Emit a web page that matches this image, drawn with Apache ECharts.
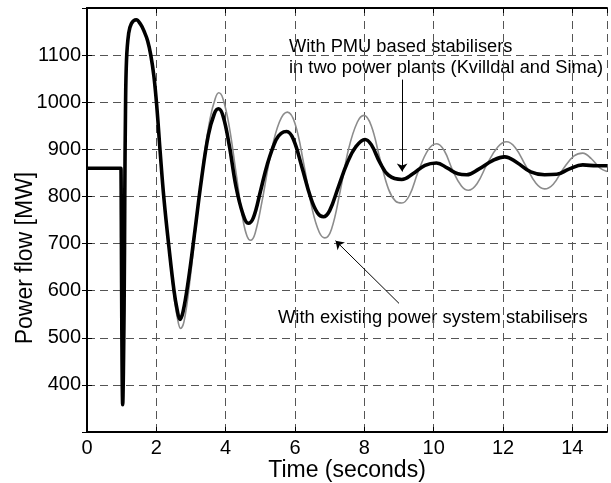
<!DOCTYPE html>
<html>
<head>
<meta charset="utf-8">
<script src="https://cdn.jsdelivr.net/npm/echarts@6/dist/echarts.min.js"></script>
<style>
  html, body { margin: 0; padding: 0; background: #fff; }
  #chart { width: 611px; height: 483px; }
</style>
</head>
<body>
<div id="chart"></div>
<script>
// time in seconds, power flow in MW
var pmuTime = [0, 0.98, 1.0, 1.03, 1.07, 1.09, 1.11, 1.14, 1.2, 1.28, 1.42, 1.55, 1.65, 1.75, 1.84, 1.93, 2.02, 2.11, 2.22, 2.36, 2.51, 2.6, 2.68, 2.77, 2.92, 3.1, 3.3, 3.5, 3.67, 3.79, 3.92, 4.1, 4.3, 4.5, 4.65, 4.8, 5.0, 5.2, 5.45, 5.6, 5.76, 5.95, 6.2, 6.45, 6.65, 6.82, 7.0, 7.25, 7.5, 7.75, 8.02, 8.2, 8.45, 8.7, 9.08, 9.4, 9.75, 10.08, 10.4, 10.7, 10.95, 11.3, 11.7, 12.05, 12.4, 12.8, 13.2, 13.55, 13.9, 14.3, 14.7, 15];
var pmuPower = [860, 860, 860, 358, 560, 800, 980, 1090, 1145, 1167, 1175, 1165, 1150, 1130, 1100, 1055, 985, 895, 795, 695, 600, 560, 539, 555, 620, 720, 835, 930, 975, 986, 972, 910, 820, 762, 743, 755, 810, 868, 920, 934, 938, 922, 862, 798, 765, 757, 770, 820, 870, 905, 921, 910, 872, 845, 836, 848, 866, 871, 860, 848, 846, 858, 876, 884, 872, 852, 846, 847, 858, 867, 865, 865];

var pssTime = [0, 0.98, 1.0, 1.03, 1.07, 1.09, 1.11, 1.14, 1.2, 1.28, 1.42, 1.55, 1.65, 1.75, 1.84, 1.93, 2.02, 2.11, 2.22, 2.36, 2.5, 2.6, 2.7, 2.8, 2.95, 3.15, 3.35, 3.55, 3.7, 3.8, 3.92, 4.1, 4.3, 4.5, 4.62, 4.72, 4.85, 5.05, 5.3, 5.55, 5.78, 6.0, 6.25, 6.5, 6.7, 6.86, 7.05, 7.3, 7.55, 7.8, 7.99, 8.2, 8.45, 8.7, 8.9, 9.08, 9.3, 9.55, 9.85, 10.09, 10.3, 10.55, 10.8, 11.0, 11.25, 11.55, 11.85, 12.1, 12.35, 12.65, 12.95, 13.2, 13.45, 13.75, 14.05, 14.3, 14.55, 14.8, 15];
var pssPower = [860, 860, 860, 358, 560, 800, 980, 1090, 1145, 1167, 1175, 1165, 1150, 1130, 1100, 1055, 985, 895, 795, 690, 595, 545, 520, 535, 610, 740, 870, 965, 1008, 1020, 1008, 950, 850, 750, 715, 707, 722, 790, 890, 958, 979, 955, 870, 772, 724, 712, 730, 810, 902, 958, 972, 950, 880, 815, 790, 786, 802, 852, 900, 912, 898, 855, 822, 813, 827, 870, 905, 916, 904, 866, 828, 816, 826, 860, 886, 892, 880, 860, 853];

// arrow annotations: [from, to] in (time, MW)
var pmuArrow = [[9.09, 1048], [9.09, 853]];
var pssArrow = [[9.0, 573], [7.17, 706]];

function pairs(xs, ys) {
    var out = [];
    for (var i = 0; i < xs.length; i++) out.push([xs[i], ys[i]]);
    return out;
}

var font = 'Liberation Sans, Arial, sans-serif';
var myChart = echarts.init(document.getElementById('chart'));

var edgeAxis = {
    axisLine: { show: true, lineStyle: { color: '#000', width: 2 } },
    axisTick: { show: true, inside: true, length: 5, lineStyle: { color: '#000', width: 1 } },
    axisLabel: { show: false },
    splitLine: { show: false }
};

option = {
    animation: false,
    backgroundColor: '#fff',
    grid: { left: 87, right: 4, top: 8, bottom: 51, outerBoundsMode: 'none', containLabel: false },
    xAxis: [
        {
            type: 'value',
            min: 0, max: 15, interval: 2,
            name: 'Time (seconds)',
            nameLocation: 'middle',
            nameGap: 27,
            nameMoveOverlap: false,
            nameTextStyle: { color: '#000', fontSize: 23, fontFamily: font },
            axisLine: { show: true, onZero: false, lineStyle: { color: '#000', width: 2 } },
            axisTick: { show: true, inside: true, length: 5, lineStyle: { color: '#000' } },
            axisLabel: {
                color: '#000', fontSize: 20, fontFamily: font, margin: 6,
                formatter: function (v) { return v === 15 ? '' : v; }
            },
            splitLine: { show: true, lineStyle: { color: '#555', width: 1, type: [8, 5] } }
        },
        Object.assign({ type: 'value', position: 'top', min: 0, max: 15, interval: 2 }, edgeAxis)
    ],
    yAxis: [
        {
            type: 'value',
            min: 300, max: 1200, interval: 100,
            name: 'Power flow [MW]',
            nameLocation: 'middle',
            nameGap: 50,
            nameMoveOverlap: false,
            nameTextStyle: { color: '#000', fontSize: 23, fontFamily: font, padding: [0, 76, 0, 0] },
            axisLine: { show: true, onZero: false, lineStyle: { color: '#000', width: 2 } },
            axisTick: { show: true, inside: true, length: 5, lineStyle: { color: '#000' } },
            axisLabel: {
                color: '#000', fontSize: 20, fontFamily: font, margin: 6,
                formatter: function (v) { return (v === 300 || v === 1200) ? '' : v; }
            },
            splitLine: { show: true, lineStyle: { color: '#555', width: 1, type: [8, 5] } }
        },
        Object.assign({ type: 'value', position: 'right', min: 300, max: 1200, interval: 100 }, edgeAxis)
    ],
    graphic: [
        {
            type: 'text', left: 289, top: 36,
            style: {
                text: 'With PMU based stabilisers\nin two power plants (Kvilldal and Sima)',
                fontSize: 18.3, fontFamily: font, fill: '#000', lineHeight: 21.5
            }
        },
        {
            type: 'text', left: 278, top: 309,
            style: {
                text: 'With existing power system stabilisers',
                fontSize: 18.4, fontFamily: font, fill: '#000'
            }
        }
    ],
    series: [
        {
            name: 'With existing power system stabilisers',
            type: 'line',
            data: pairs(pssTime, pssPower),
            smooth: 0.4,
            showSymbol: false,
            lineStyle: { color: '#8c8c8c', width: 1.6 },
            z: 2,
            markLine: {
                silent: true,
                symbol: ['none', 'arrow'],
                symbolSize: 8,
                label: { show: false },
                lineStyle: { color: '#000', width: 1, type: 'solid' },
                data: [[{ coord: pssArrow[0] }, { coord: pssArrow[1] }]]
            }
        },
        {
            name: 'With PMU based stabilisers',
            type: 'line',
            data: pairs(pmuTime, pmuPower),
            smooth: 0.4,
            showSymbol: false,
            lineStyle: { color: '#000', width: 3.6 },
            z: 3,
            markLine: {
                silent: true,
                symbol: ['none', 'arrow'],
                symbolSize: 8,
                label: { show: false },
                lineStyle: { color: '#000', width: 1, type: 'solid' },
                data: [[{ coord: pmuArrow[0] }, { coord: pmuArrow[1] }]]
            }
        }
    ]
};

myChart.setOption(option);
</script>
</body>
</html>
